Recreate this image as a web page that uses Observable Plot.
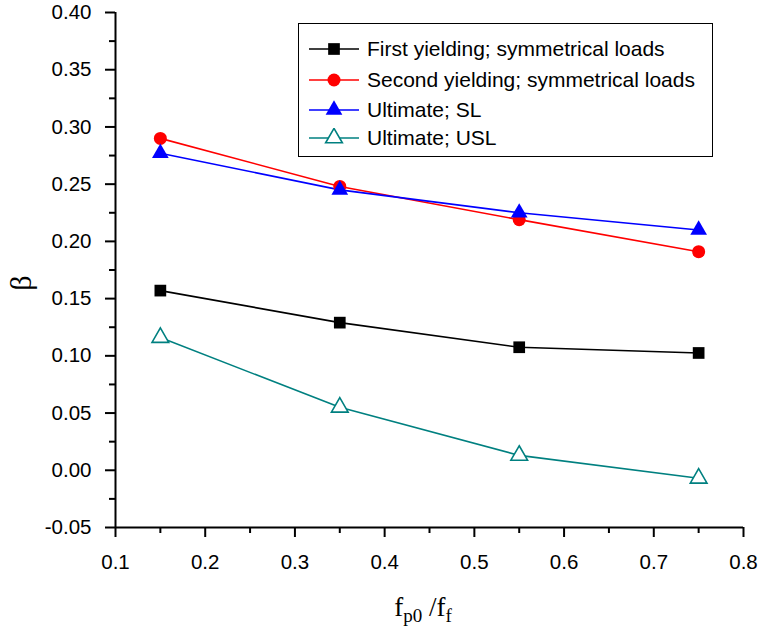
<!DOCTYPE html>
<html><head><meta charset="utf-8">
<script src="https://cdn.jsdelivr.net/npm/d3@7"></script>
<script src="https://cdn.jsdelivr.net/npm/@observablehq/plot@0.6"></script>
<style>
body{margin:0;background:#fff}
#wrap{position:relative;width:762px;height:635px;font-family:"Liberation Sans",Arial,sans-serif}
#legend{position:absolute;left:298px;top:23px;width:415px;height:134px;border:1.5px solid #000;background:#fff;box-sizing:border-box}
.row{position:absolute;left:10px;height:30px;display:flex;align-items:center;font-size:21px;color:#000;white-space:nowrap}
.row svg{margin-right:6px}
</style>
</head><body><div id="wrap"><div id="legend"></div></div>
<script>
const ratios = [0.15, 0.35, 0.55, 0.75];
const firstYielding = [0.157, 0.129, 0.1075, 0.1025];
const secondYielding = [0.290, 0.248, 0.219, 0.191];
const ultimateSL = [0.277, 0.245, 0.225, 0.210];
const ultimateUSL = [0.116, 0.055, 0.013, -0.007];
const seriesNames = ["First yielding; symmetrical loads", "Second yielding; symmetrical loads", "Ultimate; SL", "Ultimate; USL"];
const seriesValues = [firstYielding, secondYielding, ultimateSL, ultimateUSL];
const seriesColors = ["#000000", "#ff0000", "#0000ff", "#008080"];
const seriesSymbols = ["square", "circle", "triangle", "triangle"];
const seriesFills = ["#000000", "#ff0000", "#0000ff", "#ffffff"];
const seriesR = [6.6, 6.5, 6.2, 6.2];
const yTicks = [-0.05, 0.00, 0.05, 0.10, 0.15, 0.20, 0.25, 0.30, 0.35, 0.40];
const yMinor = [-0.025, 0.025, 0.075, 0.125, 0.175, 0.225, 0.275, 0.325, 0.375];
const xTicks = [0.1, 0.2, 0.3, 0.4, 0.5, 0.6, 0.7, 0.8];
const xMinor = [0.15, 0.25, 0.35, 0.45, 0.55, 0.65, 0.75];

const rows = [];
seriesNames.forEach((name, i) => ratios.forEach((x, j) => rows.push({series: name, idx: i, x, y: seriesValues[i][j]})));

const marks = [];
seriesNames.forEach((name, i) => {
  const d = rows.filter(r => r.idx === i);
  marks.push(Plot.line(d, {x: "x", y: "y", stroke: seriesColors[i], strokeWidth: 1.6}));
});
seriesNames.forEach((name, i) => {
  const d = rows.filter(r => r.idx === i);
  marks.push(Plot.dot(d, {x: "x", y: "y", symbol: seriesSymbols[i], r: seriesR[i], fill: seriesFills[i], stroke: seriesColors[i], strokeWidth: i === 3 ? 1.6 : 0}));
});

const plot = Plot.plot({
  width: 762, height: 635,
  marginLeft: 115, marginRight: 19, marginTop: 12, marginBottom: 108,
  style: {fontFamily: "Liberation Sans, Arial, sans-serif", fontSize: "20px", color: "#000", background: "#fff", overflow: "visible"},
  x: {domain: [0.1, 0.8]},
  y: {domain: [-0.05, 0.40]},
  marks: [
    Plot.axisY(yTicks, {tickSize: 10, tickPadding: 14, tickFormat: d => d.toFixed(2), strokeWidth: 2, fontSize: 20.5, label: null}),
    Plot.axisY(yMinor, {tickSize: 6, tickFormat: () => "", strokeWidth: 2, label: null}),
    Plot.axisX(xTicks, {tickSize: 10, tickPadding: 17, tickFormat: d => d.toFixed(1), strokeWidth: 2, fontSize: 20.5, label: null}),
    Plot.axisX(xMinor, {tickSize: 6, tickFormat: () => "", strokeWidth: 2, label: null}),
    Plot.ruleX([0.1], {strokeWidth: 2}),
    Plot.ruleY([-0.05], {strokeWidth: 2}),
    ...marks
  ]
});
document.getElementById("wrap").prepend(plot);

const svg = d3.select(plot);
svg.append("text")
  .attr("transform", "translate(20,283) rotate(-90)")
  .attr("text-anchor", "middle").attr("dominant-baseline", "central")
  .attr("font-family", "Liberation Serif, serif").attr("font-size", 30).attr("fill", "#000")
  .text("β");
const xl = svg.append("text")
  .attr("x", 423).attr("y", 616).attr("text-anchor", "middle")
  .attr("font-family", "Liberation Serif, serif").attr("font-size", 27).attr("fill", "#000");
xl.append("tspan").text("f");
xl.append("tspan").attr("dy", 6).attr("font-size", 19).text("p0");
xl.append("tspan").attr("dy", -6).text(" /f");
xl.append("tspan").attr("dy", 6).attr("font-size", 19).text("f");

const legend = document.getElementById("legend");
const rowTops = [10, 41, 71, 99];
seriesNames.forEach((name, i) => {
  const row = document.createElement("div");
  row.className = "row";
  row.style.top = rowTops[i] + "px";
  const s = d3.create("svg").attr("width", 52).attr("height", 20);
  s.append("line").attr("x1", 0).attr("x2", 50).attr("y1", 10).attr("y2", 10).attr("stroke", seriesColors[i]).attr("stroke-width", 1.6);
  s.append("path").attr("transform", "translate(25,10)")
    .attr("d", d3.symbol(seriesSymbols[i] === "square" ? d3.symbolSquare : seriesSymbols[i] === "circle" ? d3.symbolCircle : d3.symbolTriangle, Math.PI * seriesR[i] * seriesR[i])())
    .attr("fill", seriesFills[i]).attr("stroke", seriesColors[i]).attr("stroke-width", i === 3 ? 1.6 : 0);
  row.appendChild(s.node());
  const t = document.createElement("span");
  t.textContent = name;
  row.appendChild(t);
  legend.appendChild(row);
});
</script>
</body></html>
